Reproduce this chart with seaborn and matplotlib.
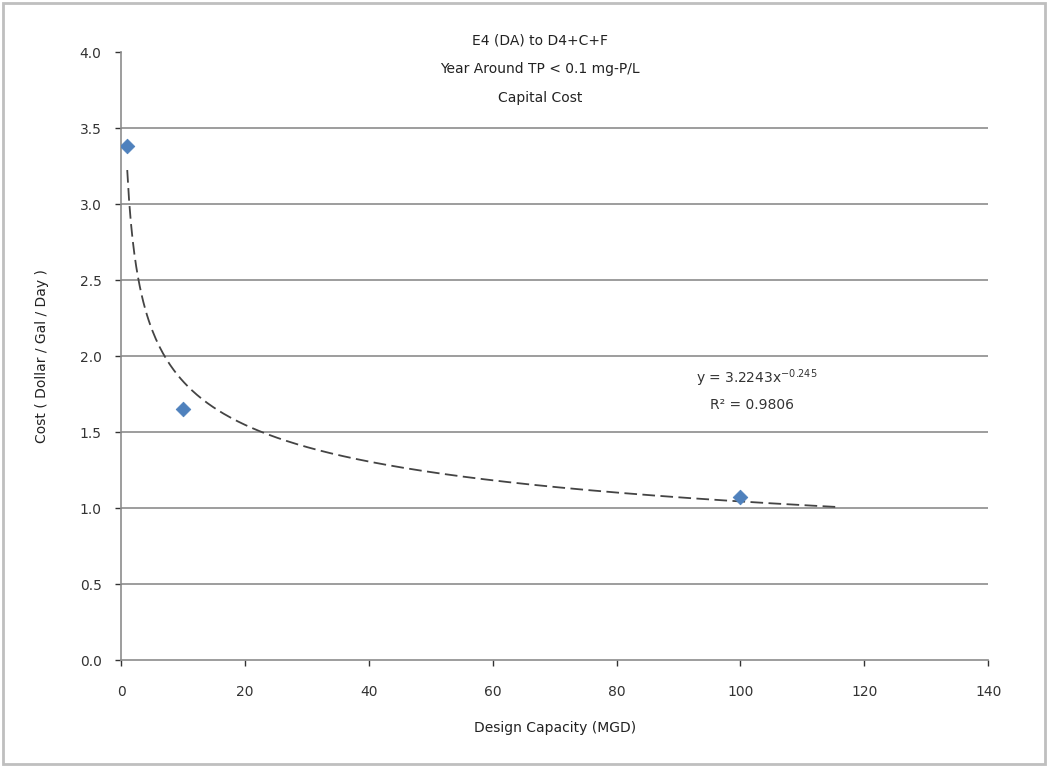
import numpy as np
import pandas as pd
import matplotlib
matplotlib.use("Agg")
import matplotlib.pyplot as plt
import seaborn as sns
from matplotlib.patches import Rectangle

# data
capacity = [1, 10, 100]          # MGD
cost = [3.38, 1.65, 1.07]        # $/gal/day
coef = 3.2243
expo = -0.245
trend_end = 116

title_lines = ["E4 (DA) to D4+C+F", "Year Around TP < 0.1 mg-P/L", "Capital Cost"]
x_ticks = [0, 20, 40, 60, 80, 100, 120, 140]
y_ticks = [0.0, 0.5, 1.0, 1.5, 2.0, 2.5, 3.0, 3.5, 4.0]

df = pd.DataFrame({"capacity": capacity, "cost": cost})
xs = np.linspace(1, trend_end, 400)
trend = pd.DataFrame({"x": xs, "y": coef * xs ** expo})

sns.set_style("white")
plt.rcParams["font.family"] = ["DejaVu Sans"]

W, H = 1048, 767
fig = plt.figure(figsize=(W / 100, H / 100), dpi=100)
ax = fig.add_axes([0.1155, 0.1395, 0.8275, 0.7925])

# horizontal gridlines (none on the top edge)
for y in y_ticks[1:-1]:
    ax.axhline(y, color="#8c8c8c", lw=1.2, zorder=0)

sns.lineplot(data=trend, x="x", y="y", ax=ax, color="#444444", lw=1.3,
             linestyle=(0, (7, 3)), zorder=2)
sns.scatterplot(data=df, x="capacity", y="cost", ax=ax, marker="D", s=55,
                color="#4F81BD", edgecolor="#4F81BD", zorder=3)

ax.set_xlim(0, 140)
ax.set_ylim(0, 4.0)
ax.set_xticks(x_ticks)
ax.set_yticks(y_ticks)
ax.set_yticklabels([f"{v:.1f}" for v in y_ticks])
ax.tick_params(axis="both", labelsize=10, colors="#333333", length=4,
               direction="out", bottom=True, left=True, width=1)
ax.tick_params(axis="x", pad=14)
ax.tick_params(axis="y", pad=10)

for side in ["top", "right"]:
    ax.spines[side].set_visible(False)
for side in ["left", "bottom"]:
    ax.spines[side].set_color("#8c8c8c")
    ax.spines[side].set_linewidth(1.2)

ax.set_xlabel("Design Capacity (MGD)", fontsize=10, color="#222222", labelpad=16)
ax.set_ylabel("Cost ( Dollar / Gal / Day )", fontsize=10, color="#222222", labelpad=22)

# title block, three lines centred near the top
for line, py in zip(title_lines, [40, 69, 98]):
    fig.text(540 / W, 1 - py / H, line, ha="center", va="center",
             fontsize=10, color="#222222")

# trendline label
fig.text(757 / W, 1 - 378 / H, "y = 3.2243x$^{-0.245}$", ha="center", va="center",
         fontsize=10, color="#333333")
fig.text(752 / W, 1 - 405 / H, "R² = 0.9806", ha="center", va="center",
         fontsize=10, color="#333333")

fig.add_artist(Rectangle((0.003, 0.004), 0.994, 0.992, transform=fig.transFigure,
                         fill=False, edgecolor="#bfbfbf", lw=2))

fig.savefig("out.png", dpi=100)
